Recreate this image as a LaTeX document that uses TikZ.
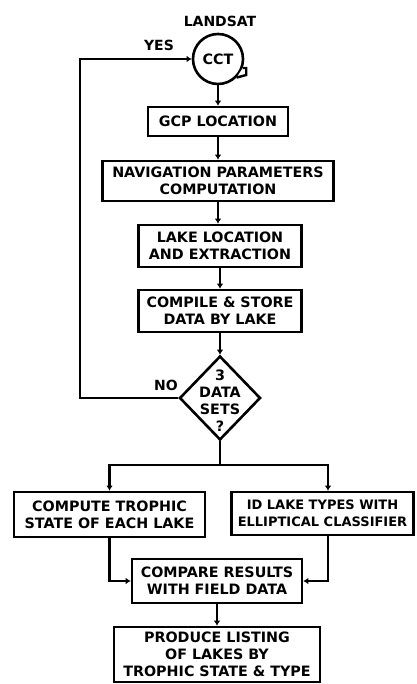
\documentclass[tikz,border=0pt]{standalone}
\usepackage{fontspec}
\setmainfont{DejaVu Sans}
\usetikzlibrary{shapes.geometric,arrows.meta}
\begin{document}
\begin{tikzpicture}[x=1pt,y=-1pt,
  txt/.style={align=center,inner sep=0pt,font=\fontsize{14.3}{17}\selectfont\bfseries},
  box/.style={txt,draw,line width=2.6pt,rectangle},
  lbl/.style={inner sep=0pt,font=\fontsize{14}{16}\selectfont\bfseries},
  conn/.style={line width=2.8pt},
  arr/.style={conn,-{Latex[length=5pt,width=6.5pt]}}]
\useasboundingbox (0,0) rectangle (416,684);
\fill[white] (0,0) rectangle (416,684);

% top
\node[lbl] (landsat) at (220,21) {LANDSAT};
\node[lbl] (yes) at (159,45) {YES};
\node[txt,draw,circle,minimum size=50pt,line width=2.6pt] (cct) at (218,59) {CCT};
\filldraw[fill=white,line width=2.4pt] (cct.-20) -- ++(3.5,0) -- ++(0,7) -- (cct.-45);

% main column
\node[box,minimum width=140pt,minimum height=29pt] (gcp) at (218,121.5) {GCP LOCATION};
\node[box,minimum width=231pt,minimum height=40pt] (nav) at (218,181) {NAVIGATION PARAMETERS\\COMPUTATION};
\node[box,minimum width=163pt,minimum height=42pt] (lake) at (220,246) {LAKE LOCATION\\AND EXTRACTION};
\node[box,minimum width=163pt,minimum height=42pt] (comp) at (220,311) {COMPILE \& STORE\\DATA BY LAKE};
\node[draw,diamond,minimum width=81pt,minimum height=84pt,inner sep=0pt,line width=2.6pt] (dia) at (220,398) {};
\node[txt] (diatext) at (220,401) {3\\DATA\\SETS\\?};
\node[lbl] (no) at (166,385) {NO};

% lower part
\node[box,minimum width=191pt,minimum height=45pt] (lbox) at (109.5,514.5) {COMPUTE TROPHIC\\STATE OF EACH LAKE};
\node[box,minimum width=182pt,minimum height=43pt,font=\fontsize{13}{17}\selectfont\bfseries] (rbox) at (322.5,513.5) {ID LAKE TYPES WITH\\ELLIPTICAL CLASSIFIER};
\node[box,minimum width=170pt,minimum height=44pt] (cmp) at (217,581) {COMPARE RESULTS\\WITH FIELD DATA};
\node[box,minimum width=206pt,minimum height=55pt] (prod) at (217,654.5) {PRODUCE LISTING\\OF LAKES BY\\TROPHIC STATE \& TYPE};

\coordinate (lp) at (80,0);
\coordinate (rc) at (328,0);
\coordinate (split) at (220,465);

% connectors
\draw[arr] (cct.south) -- (cct.south |- gcp.north);
\draw[arr] (gcp.south) -- (gcp.south |- nav.north);
\draw[arr] (nav.south) -- (nav.south |- lake.north);
\draw[arr] (lake.south) -- (comp.north);
\draw[arr] (comp.south) -- (dia.north);
\draw[arr] (dia.west) -- (dia.west -| lp) -- (lp |- cct.west) -- (cct.west);
\draw[conn] (dia.south) -- (split);
\draw[arr] (split) -- (split -| lbox.north) -- (lbox.north);
\draw[arr] (split) -- (split -| rc) -- (rc |- rbox.north);
\draw[arr] (lbox.south) -- (lbox.south |- cmp.west) -- (cmp.west);
\draw[arr] (rc |- rbox.south) -- (rc |- cmp.east) -- (cmp.east);
\draw[arr] (cmp.south) -- (prod.north);
\end{tikzpicture}
\end{document}
